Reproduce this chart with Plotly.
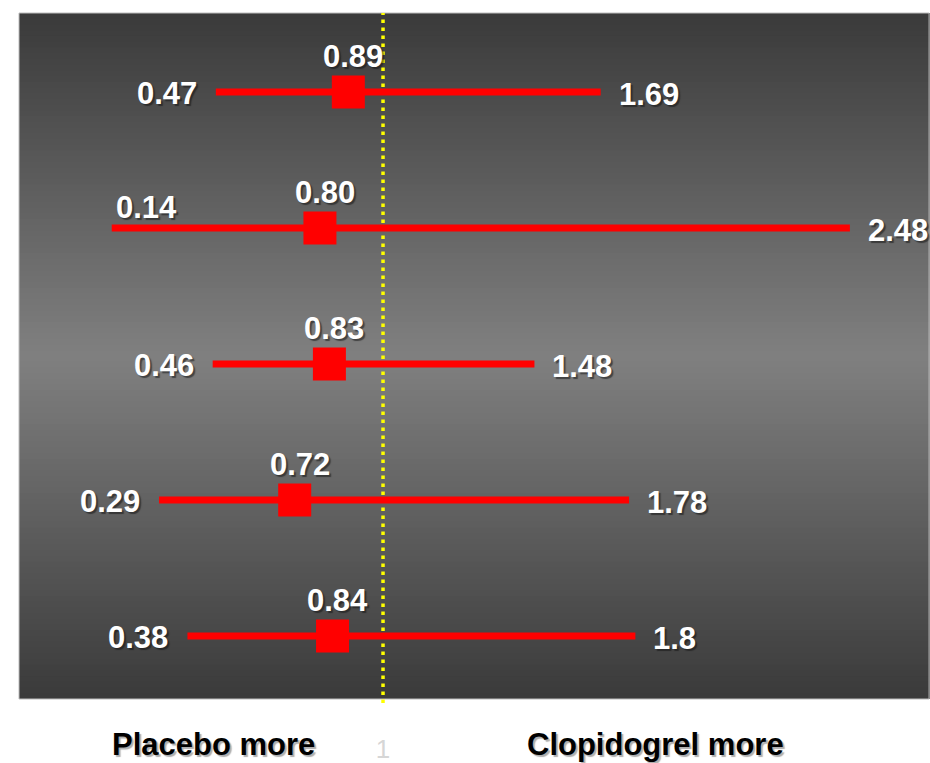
import plotly.graph_objects as go

# Odds ratios with 95% confidence limits, one row per subgroup (top to bottom)
rows = [1, 2, 3, 4, 5]
odds_ratio = [0.89, 0.80, 0.83, 0.72, 0.84]
ci_low = [0.47, 0.14, 0.46, 0.29, 0.38]
ci_high = [1.69, 2.48, 1.48, 1.78, 1.8]
low_text = ["0.47", "0.14", "0.46", "0.29", "0.38"]
high_text = ["1.69", "2.48", "1.48", "1.78", "1.8"]
or_text = ["0.89", "0.80", "0.83", "0.72", "0.84"]

tick_vals = [1]
tick_text = ["1"]
left_caption = "Placebo more"
right_caption = "Clopidogrel more"

RED = "#ff0000"
YELLOW = "#ffff00"
LABEL_FONT = "Liberation Sans Narrow, Arial Narrow, Liberation Sans, Arial, sans-serif"
X_RANGE = [-0.154, 2.734]
Y_RANGE = [5.463, 0.419]
PLOT_W = 911

fig = go.Figure()

# Confidence-interval bars
for r, lo, hi in zip(rows, ci_low, ci_high):
    fig.add_trace(go.Scatter(
        x=[lo, hi], y=[r, r], mode="lines",
        line=dict(color=RED, width=7), hoverinfo="skip", showlegend=False,
    ))

# Point estimates
fig.add_trace(go.Scatter(
    x=odds_ratio, y=rows, mode="markers",
    marker=dict(symbol="square", size=33, color=RED, line=dict(width=0)),
    showlegend=False,
))

# Vertical gradient backdrop: dark at the edges, lighter toward the middle
shapes = []
n_bands = 120
dark, light = 58, 128
for i in range(n_bands):
    t = (i + 0.5) / n_bands
    k = 1 - abs(t - 0.5) / 0.5
    g = int(round(dark + (light - dark) * k))
    y1 = 1 - i / n_bands
    y0 = 1 - (i + 1) / n_bands - 0.002
    shapes.append(dict(
        type="rect", xref="paper", yref="paper", x0=0, x1=1,
        y0=max(y0, 0), y1=y1, line=dict(width=0),
        fillcolor=f"rgb({g},{g},{g})", layer="below",
    ))
# Frame
shapes.append(dict(
    type="rect", xref="paper", yref="paper", x0=0, x1=0.999, y0=0, y1=1,
    line=dict(color="#bdbdbd", width=1), layer="below",
))
# Line of no effect at OR = 1
shapes.append(dict(
    type="line", xref="x", yref="paper", x0=1, x1=1, y0=-0.006, y1=1,
    line=dict(color=YELLOW, width=3.5, dash="3.5px,4.5px"), layer="below",
))

label_font = dict(family=LABEL_FONT, size=31, color="white", weight="bold",
                  shadow="2px 2px 1px rgba(20,20,20,0.55)")
annotations = []
for r, lo, hi, lt, ht, est, et in zip(rows, ci_low, ci_high, low_text,
                                       high_text, odds_ratio, or_text):
    room_left = (lo - X_RANGE[0]) / (X_RANGE[1] - X_RANGE[0]) * PLOT_W
    if room_left < 110:
        # too little room left of the bar: put the label above its start
        annotations.append(dict(x=lo, y=r, text=lt, showarrow=False,
                                xanchor="left", yanchor="middle",
                                xshift=2, yshift=21, font=label_font))
    else:
        annotations.append(dict(x=lo, y=r, text=lt, showarrow=False,
                                xanchor="right", yanchor="middle",
                                xshift=-17, yshift=-1, font=label_font))
    annotations.append(dict(x=hi, y=r, text=ht, showarrow=False,
                            xanchor="left", yanchor="middle",
                            xshift=16, yshift=-2, font=label_font))
    annotations.append(dict(x=est, y=r, text=et, showarrow=False,
                            xanchor="center", yanchor="middle",
                            xshift=5, yshift=36, font=label_font))

caption_font = dict(family=LABEL_FONT, size=31, color="black", weight="bold",
                    shadow="2px 2px 1px rgba(120,120,120,0.6)")
annotations.append(dict(xref="paper", yref="paper", x=0.214, y=-0.066,
                        text=left_caption, showarrow=False,
                        xanchor="center", yanchor="middle", font=caption_font))
annotations.append(dict(xref="paper", yref="paper", x=0.699, y=-0.066,
                        text=right_caption, showarrow=False,
                        xanchor="center", yanchor="middle", font=caption_font))

fig.update_layout(
    width=930, height=763,
    margin=dict(l=19, r=0, t=13, b=64),
    paper_bgcolor="white",
    plot_bgcolor="rgba(0,0,0,0)",
    shapes=shapes,
    annotations=annotations,
    showlegend=False,
    xaxis=dict(range=X_RANGE, showgrid=False, zeroline=False, showline=False,
               tickvals=tick_vals, ticktext=tick_text, ticks="",
               tickfont=dict(family=LABEL_FONT, size=26, color="#d6d6d6"),
               ticklabelstandoff=32),
    yaxis=dict(range=Y_RANGE, showgrid=False, zeroline=False, showline=False,
               showticklabels=False, ticks=""),
)

fig.write_html("out.html")
